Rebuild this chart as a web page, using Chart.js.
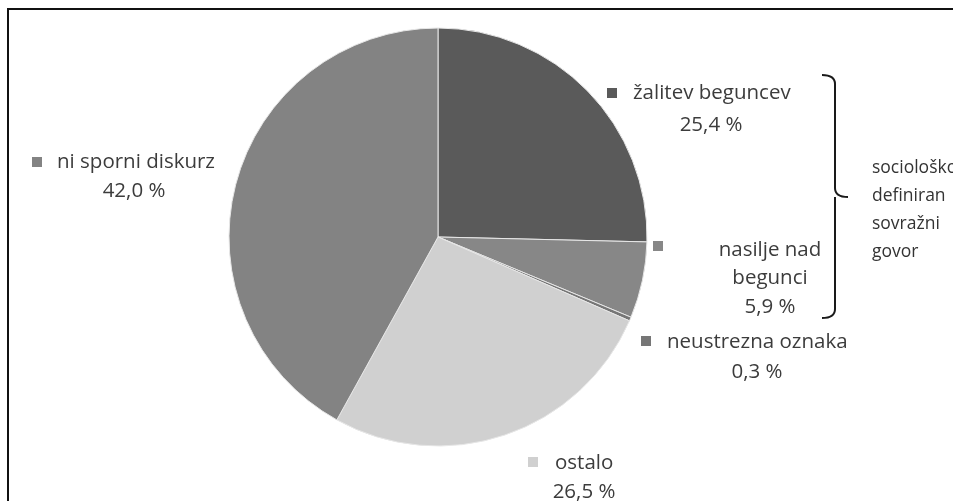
<!DOCTYPE html>
<html>
<head>
<meta charset="utf-8">
<script src="https://cdn.jsdelivr.net/npm/chart.js@4/dist/chart.umd.min.js"></script>
<style>
  html, body { margin: 0; padding: 0; background: #fff; }
  #wrap { width: 953px; height: 501px; position: relative; }
</style>
</head>
<body>
<div id="wrap"><canvas id="chart" width="953" height="501"></canvas></div>
<script>
/* Data */
var categories = ['žalitev beguncev', 'nasilje nad begunci', 'neustrezna oznaka', 'ostalo', 'ni sporni diskurz'];
var shares = [25.4, 5.9, 0.3, 26.5, 42.0];
var shareLabels = ['25,4 %', '5,9 %', '0,3 %', '26,5 %', '42,0 %'];
var sliceColors = ['#5a5a5a', '#878787', '#767676', '#d0d0d0', '#838383'];
var bracketText = ['sociološko', 'definiran', 'sovražni', 'govor'];

/* Label layout (text lines, marker box, line centers) */
var labelLayout = [
  { lines: ['žalitev beguncev', '25,4 %'], marker: [607, 88], pos: [[633, 93, 'left'], [711, 125, 'center']] },
  { lines: ['nasilje nad', 'begunci', '5,9 %'], marker: [653, 241], pos: [[770, 250, 'center'], [770, 278, 'center'], [770, 307, 'center']] },
  { lines: ['neustrezna oznaka', '0,3 %'], marker: [641, 336], pos: [[667, 342, 'left'], [757, 372, 'center']] },
  { lines: ['ostalo', '26,5 %'], marker: [528, 457], pos: [[555, 463, 'left'], [584, 492, 'center']] },
  { lines: ['ni sporni diskurz', '42,0 %'], marker: [32, 157], pos: [[57, 162, 'left'], [134, 191, 'center']] }
];

var decorPlugin = {
  id: 'decor',
  afterDraw: function(chart) {
    var ctx = chart.ctx;
    ctx.save();

    // frame (top + left, rest is cut off)
    ctx.strokeStyle = '#111';
    ctx.lineWidth = 2;
    ctx.beginPath();
    ctx.moveTo(8, 510);
    ctx.lineTo(8, 9);
    ctx.lineTo(960, 9);
    ctx.stroke();

    // data labels
    ctx.font = '20.5px "Open Sans"';
    ctx.textBaseline = 'middle';
    labelLayout.forEach(function(lab, i) {
      ctx.fillStyle = sliceColors[i];
      ctx.fillRect(lab.marker[0], lab.marker[1], 10, 10);
      ctx.fillStyle = '#3c3c3c';
      lab.lines.forEach(function(t, j) {
        var p = lab.pos[j];
        ctx.textAlign = p[2];
        ctx.fillText(t, p[0], p[1]);
      });
    });

    // curly bracket
    ctx.strokeStyle = '#1a1a1a';
    ctx.lineWidth = 2;
    ctx.beginPath();
    ctx.moveTo(822, 75);
    ctx.quadraticCurveTo(835, 75, 835, 84);
    ctx.lineTo(835, 188);
    ctx.quadraticCurveTo(835, 197, 848, 197);
    ctx.moveTo(835, 197);
    ctx.quadraticCurveTo(835, 197, 835, 206);
    ctx.lineTo(835, 309);
    ctx.quadraticCurveTo(835, 318, 822, 318);
    ctx.stroke();

    ctx.font = '17.5px "Open Sans"';
    ctx.textAlign = 'left';
    ctx.fillStyle = '#333';
    bracketText.forEach(function(t, k) {
      ctx.fillText(t, 872, 168 + k * 28);
    });

    ctx.restore();
  }
};

var chart = new Chart(document.getElementById('chart'), {
  type: 'pie',
  data: {
    labels: categories,
    datasets: [{
      data: shares,
      backgroundColor: sliceColors,
      borderColor: '#e6e6e6',
      borderWidth: 1
    }]
  },
  options: {
    responsive: false,
    animation: false,
    radius: 209,
    layout: { padding: { left: 229, right: 306, top: 28, bottom: 55 } },
    plugins: {
      legend: { display: false },
      tooltip: { enabled: false }
    }
  },
  plugins: [decorPlugin]
});
</script>
</body>
</html>
